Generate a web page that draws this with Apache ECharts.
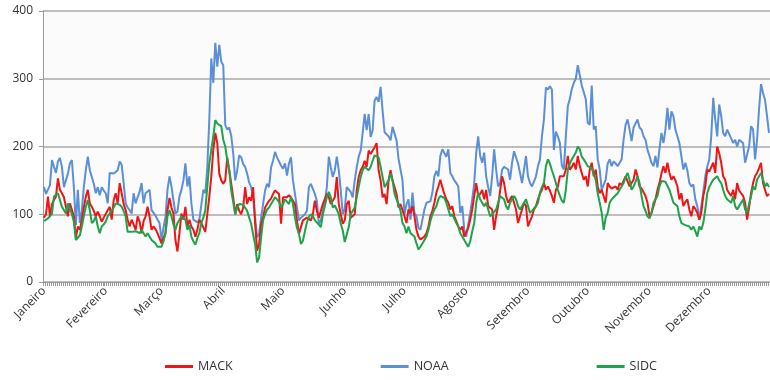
<!DOCTYPE html>
<html>
<head>
<meta charset="utf-8">
<script src="https://cdn.jsdelivr.net/npm/echarts@6/dist/echarts.min.js"></script>
<style>
html,body{margin:0;padding:0;background:#ffffff;}
#chart{width:770px;height:380px;}
</style>
</head>
<body>
<div id="chart"></div>
<script>
const months = ['Janeiro','Fevereiro','Março','Abril','Maio','Junho','Julho','Agosto','Setembro','Outubro','Novembro','Dezembro'];
const monthDays = [31,28,31,30,31,30,31,31,30,31,30,31];
const seriesNames = ['MACK','NOAA','SIDC'];
const yTicks = [0,100,200,300,400];

const mack = [
95,100,126,97,115,121,126,153,136,131,
125,111,97,116,115,97,65,82,77,92,
110,126,136,116,111,105,97,104,97,89,
95,97,106,111,92,121,131,116,146,131,
115,106,92,82,92,85,77,97,89,72,
90,97,111,97,77,82,78,72,74,57,
65,72,106,124,110,101,62,45,72,101,
92,111,82,92,82,77,67,77,92,87,
85,74,100,126,156,195,220,205,160,150,
145,150,184,165,145,125,100,115,105,100,
110,140,115,125,120,140,86,46,56,86,
95,110,115,120,123,130,135,133,130,86,
125,123,125,128,125,120,115,91,71,81,
91,91,95,95,91,100,120,105,95,105,
115,115,130,125,115,120,125,155,115,100,
86,91,115,120,95,95,100,135,155,165,
170,179,170,194,189,194,199,205,165,150,
125,130,115,150,165,150,140,130,110,115,
117,97,87,107,102,112,97,77,67,63,
65,67,72,82,97,105,117,132,141,151,
140,130,122,117,107,112,97,90,82,77,
82,67,67,80,92,107,127,146,127,130,
136,122,136,112,110,107,77,97,112,135,
156,146,127,117,122,127,117,107,87,97,
107,117,112,82,90,97,107,112,122,130,
136,146,136,141,135,127,117,136,141,156,
156,156,166,186,166,170,176,166,186,171,
161,151,156,141,166,176,156,166,141,131,
136,136,117,146,141,138,136,141,136,146,
143,141,156,154,141,146,151,166,156,141,
138,136,127,117,97,102,112,122,136,146,
160,171,161,176,161,151,156,150,141,122,
131,112,118,122,107,97,112,108,102,92,
102,127,141,166,163,161,176,161,200,190,
176,156,151,136,131,127,136,122,146,135,
131,127,117,92,110,131,146,156,161,168,
176,146,136,127,130
];

const noaa = [
140,130,131,143,180,170,161,178,183,170,
140,140,160,175,180,140,84,136,87,106,
140,165,185,165,155,145,131,140,128,140,
135,131,116,161,163,160,160,165,178,173,
146,116,110,106,101,131,116,125,133,146,
116,131,133,136,106,104,98,92,87,62,
80,96,136,156,141,120,101,104,126,136,
150,175,141,156,116,92,90,88,92,92,
136,131,170,240,330,294,353,318,350,325,
320,232,225,228,216,190,150,165,187,184,
174,170,160,147,140,125,95,66,71,95,
115,135,145,140,169,179,192,184,178,172,
167,175,157,175,184,150,130,110,91,95,
95,100,105,140,145,145,130,120,86,91,
105,118,140,185,169,155,165,185,165,135,
100,108,140,142,133,125,150,169,185,194,
220,248,224,248,214,224,268,273,266,288,
253,221,221,215,209,229,219,209,182,183,
150,100,115,122,92,132,102,97,80,77,
92,107,117,118,119,132,156,164,156,186,
196,194,185,196,161,156,150,146,141,102,
112,77,67,85,102,122,146,191,215,186,
176,191,156,140,127,156,196,166,141,146,
166,170,171,166,151,176,193,191,175,161,
146,166,186,156,146,141,148,156,171,181,
215,240,287,284,289,284,195,222,215,205,
172,166,215,260,270,285,294,300,320,318,
290,280,270,235,232,290,225,230,181,166,
136,134,151,175,181,171,178,175,171,176,
181,210,232,240,225,208,228,230,240,228,
225,215,210,195,186,176,171,186,169,196,
220,205,225,257,225,252,245,225,215,205,
186,166,176,165,146,141,144,122,112,92,
112,132,156,170,181,215,272,240,215,262,
245,220,215,225,225,212,205,210,200,210,
212,205,176,176,200,230,225,181,210,255,
292,279,269,245,220
];

const sidc = [
90,92,94,97,101,126,128,131,130,111,
111,101,116,118,100,89,62,62,69,82,
97,111,121,106,87,90,97,82,72,82,
85,89,97,101,106,110,116,114,114,111,
105,97,74,72,74,74,75,77,72,77,
72,67,72,67,62,60,57,52,52,52,
60,72,97,106,97,85,77,87,92,97,
95,92,77,84,67,60,55,65,72,87,
95,106,141,175,195,215,239,234,232,230,
210,200,180,165,135,118,100,110,115,113,
114,115,105,95,86,70,56,29,36,66,
91,100,107,110,115,120,125,122,118,110,
115,122,120,115,125,115,95,80,71,56,
61,75,88,96,100,97,91,88,86,81,
100,112,125,133,125,110,113,107,100,86,
76,59,70,81,100,98,110,125,140,155,
165,170,168,165,170,179,187,186,184,170,
155,140,145,150,160,150,130,122,115,105,
87,82,72,82,72,70,67,57,48,52,
57,62,67,77,90,100,107,112,122,127,
125,124,117,107,97,100,102,87,82,72,
67,62,57,52,60,75,87,117,132,122,
117,112,117,107,97,100,102,107,117,127,
125,122,112,107,117,122,127,122,112,107,
112,117,122,112,102,105,107,112,117,132,
140,146,171,181,175,165,156,146,136,127,
120,117,136,166,175,181,186,191,200,196,
185,181,176,171,171,168,166,151,131,117,
102,77,95,102,117,122,125,127,131,136,
141,146,155,161,151,136,141,148,156,146,
127,112,105,97,94,102,117,122,127,141,
149,151,148,146,136,127,117,115,112,97,
87,87,84,82,82,77,82,75,67,82,
77,87,107,131,140,146,151,151,156,150,
146,136,127,122,120,117,127,112,107,112,
117,122,107,102,115,127,141,136,151,156,
161,151,141,146,140
];

// build day categories and month-start lookup
const categories = [];
const monthStartLabel = {};
months.forEach(function (m, mi) {
  for (let d = 1; d <= monthDays[mi]; d++) {
    if (d === 1) monthStartLabel[categories.length] = m;
    categories.push(d + '/' + (mi + 1));
  }
});

const colors = ['#f01414', '#5b8fd7', '#1ea34a'];
const font = "'Open Sans', 'Liberation Sans', sans-serif";

const chart = echarts.init(document.getElementById('chart'), null, {renderer: 'canvas'});
chart.setOption({
  animation: false,
  backgroundColor: '#ffffff',
  grid: {
    left: 43, right: 0, top: 11, bottom: 98,
    show: true, backgroundColor: '#fbfbfb', borderWidth: 0
  },
  legend: {
    bottom: 2,
    left: 160,
    itemGap: 148,
    itemWidth: 28,
    itemHeight: 3,
    icon: 'rect',
    textStyle: {fontFamily: font, fontSize: 12.5, color: '#333'},
    data: seriesNames
  },
  xAxis: {
    type: 'category',
    data: categories,
    boundaryGap: true,
    axisLine: {show: true, lineStyle: {color: '#9a9a9a', width: 1}},
    axisTick: {show: true, interval: 0, length: 4, lineStyle: {color: '#9a9a9a'}},
    axisLabel: {
      interval: function (i) { return monthStartLabel[i] !== undefined; },
      formatter: function (v, i) { return monthStartLabel[i] || ''; },
      rotate: 45,
      margin: 7,
      fontFamily: font,
      fontSize: 12,
      color: '#333'
    },
    splitLine: {show: false}
  },
  yAxis: {
    type: 'value',
    min: yTicks[0],
    max: yTicks[yTicks.length - 1],
    interval: 100,
    axisLine: {show: true, lineStyle: {color: '#9a9a9a', width: 1}},
    axisTick: {show: true, length: 4, lineStyle: {color: '#9a9a9a'}},
    axisLabel: {fontFamily: font, fontSize: 12, color: '#333', margin: 10},
    splitLine: {show: true, lineStyle: {color: '#a8a8a8', width: 1.5}}
  },
  series: [
    {name: seriesNames[0], type: 'line', data: mack, showSymbol: false, symbol: 'none',
     lineStyle: {color: colors[0], width: 2}, itemStyle: {color: colors[0]}, z: 3},
    {name: seriesNames[1], type: 'line', data: noaa, showSymbol: false, symbol: 'none',
     lineStyle: {color: colors[1], width: 2}, itemStyle: {color: colors[1]}, z: 2},
    {name: seriesNames[2], type: 'line', data: sidc, showSymbol: false, symbol: 'none',
     lineStyle: {color: colors[2], width: 2}, itemStyle: {color: colors[2]}, z: 4}
  ]
});
</script>
</body>
</html>
